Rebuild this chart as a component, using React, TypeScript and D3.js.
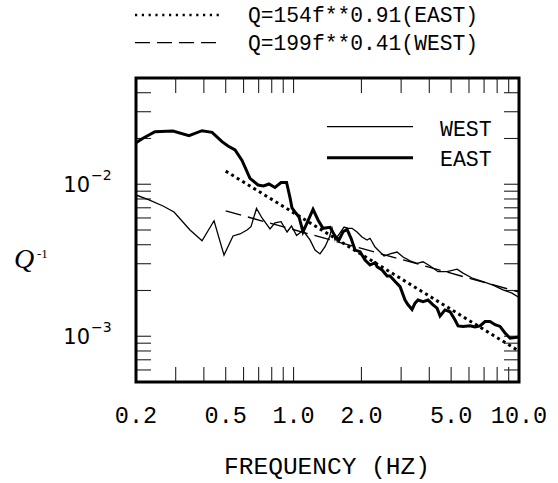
import React from 'react';
import * as d3 from 'd3';

// EAST spectral-ratio estimate of Q^-1 (thick line)
const eastFreq = [0.2, 0.2148, 0.2428, 0.2918, 0.3437, 0.3926, 0.4349, 0.4815, 0.5119, 0.55, 0.5906, 0.6408, 0.6954, 0.7357, 0.778, 0.827, 0.88, 0.931, 0.965, 0.984, 1.025, 1.057, 1.101, 1.136, 1.22, 1.284, 1.351, 1.451, 1.527, 1.591, 1.657, 1.727, 1.799, 1.874, 1.972, 2.075, 2.184, 2.298, 2.346, 2.469, 2.598, 2.68, 2.82, 2.968, 3.122, 3.22, 3.354, 3.458, 3.566, 3.752, 3.95, 4.156, 4.33, 4.466, 4.698, 4.946, 5.204, 5.366, 5.646, 6.064, 6.384, 6.718, 7.07, 7.44, 7.83, 8.24, 8.67, 9.13, 9.6, 10.0];
const eastQinv = [0.01876, 0.02006, 0.02216, 0.0224, 0.02087, 0.0225, 0.02196, 0.01905, 0.01784, 0.0168, 0.01433, 0.01094, 0.00989, 0.00974, 0.01004, 0.00952, 0.01027, 0.01027, 0.00812, 0.00698, 0.00644, 0.00609, 0.00487, 0.00539, 0.00684, 0.00582, 0.00513, 0.00521, 0.00457, 0.0043, 0.00487, 0.00505, 0.00441, 0.00369, 0.0036, 0.00317, 0.00294, 0.00305, 0.00287, 0.00273, 0.00249, 0.00249, 0.00229, 0.00212, 0.00173, 0.00161, 0.0015, 0.00165, 0.00173, 0.00169, 0.00173, 0.00161, 0.00153, 0.00136, 0.00149, 0.00145, 0.00128, 0.00117, 0.00116, 0.00117, 0.00115, 0.00117, 0.00125, 0.00125, 0.00119, 0.00116, 0.00105, 0.00097, 0.00098, 0.00099];

// WEST estimate (thin line)
const westFreq = [0.2, 0.2284, 0.2636, 0.2949, 0.3472, 0.3926, 0.4438, 0.4914, 0.5388, 0.5786, 0.6216, 0.6474, 0.6848, 0.7244, 0.7862, 0.827, 0.88, 0.9354, 0.9794, 1.031, 1.101, 1.183, 1.245, 1.31, 1.379, 1.444, 1.481, 1.527, 1.607, 1.675, 1.744, 1.817, 1.912, 2.012, 2.118, 2.184, 2.298, 2.394, 2.52, 2.68, 2.878, 3.06, 3.286, 3.53, 3.752, 4.032, 4.374, 4.796, 5.312, 5.646, 6.254, 6.926, 7.672, 8.496, 9.314, 10.0];
const westQinv = [0.0085, 0.00788, 0.00719, 0.00657, 0.005, 0.00425, 0.00575, 0.00342, 0.00457, 0.00471, 0.005, 0.00526, 0.00693, 0.006, 0.00508, 0.00558, 0.00567, 0.00485, 0.00531, 0.0046, 0.00496, 0.0043, 0.00369, 0.00348, 0.00388, 0.00452, 0.00515, 0.0043, 0.00478, 0.00523, 0.00513, 0.00513, 0.00485, 0.0045, 0.0043, 0.00441, 0.00386, 0.00364, 0.00337, 0.00348, 0.00358, 0.00332, 0.00313, 0.00302, 0.00309, 0.0029, 0.00266, 0.00266, 0.00276, 0.0026, 0.0024, 0.00229, 0.00217, 0.00202, 0.00192, 0.0018];

// Power-law fits Q = Q0 f^n
const eastFitQ0 = 154;
const eastFitN = 0.91;
const westFitQ0 = 199;
const westFitN = 0.41;
const fitRange = [0.5, 10];
const fitLabels = ['Q=154f**0.91(EAST)', 'Q=199f**0.41(WEST)'];

// Axes
const xDomain = [0.2, 10];
const yDomain = [5e-4, 5e-2];
const xLabelValues = [0.2, 0.5, 1, 2, 5, 10];
const xLabelTexts = ['0.2', '0.5', '1.0', '2.0', '5.0', '10.0'];
const xTickValues = [0.3, 0.4, 0.5, 0.6, 0.7, 0.8, 0.9, 1, 2, 3, 4, 5, 6, 7, 8, 9];
const yTickValues = [6e-4, 7e-4, 8e-4, 9e-4, 1e-3, 2e-3, 3e-3, 4e-3, 5e-3, 6e-3, 7e-3, 8e-3, 9e-3, 1e-2, 2e-2, 3e-2, 4e-2];
const yLabelValues = [1e-2, 1e-3];
const yLabelExps = ['\u22122', '\u22123'];

const W = 558;
const H = 483;
const L = 136, R = 519, T = 78, B = 382;
const MONO = "'Liberation Mono', 'Courier New', monospace";

export default function App() {
  const x = d3.scaleLog().domain(xDomain).range([L, R]);
  const y = d3.scaleLog().domain(yDomain).range([B, T]);
  const line = d3.line<[number, number]>().x(d => x(d[0])).y(d => y(d[1]));

  const east = eastFreq.map((f, i) => [f, eastQinv[i]] as [number, number]);
  const west = westFreq.map((f, i) => [f, westQinv[i]] as [number, number]);
  const fit = (q0: number, n: number) => fitRange.map(f => [f, 1 / (q0 * Math.pow(f, n))] as [number, number]);
  const TL = 15;

  return (
    <svg width={W} height={H} style={{ position: 'absolute', left: 0, top: 0, background: '#fff' }}>
      <rect x={0} y={0} width={W} height={H} fill="#fff" />
      {/* top legend */}
      <line x1={135} x2={220} y1={15} y2={15} stroke="#000" strokeWidth={2.4} strokeDasharray="2.2 4.6" />
      <text x={248} y={21.5} fontFamily={MONO} fontSize={21.3} fill="#000">{fitLabels[0]}</text>
      <line x1={135} x2={220} y1={42.7} y2={42.7} stroke="#000" strokeWidth={1.3} strokeDasharray="15 7" />
      <text x={248} y={49.5} fontFamily={MONO} fontSize={21.3} fill="#000">{fitLabels[1]}</text>

      <defs>
        <clipPath id="plotclip">
          <rect x={L} y={T} width={R - L} height={B - T} />
        </clipPath>
      </defs>

      {/* ticks */}
      {xTickValues.map(v => (
        <g key={'xt' + v}>
          <line x1={x(v)} x2={x(v)} y1={B} y2={B - TL} stroke="#222" strokeWidth={1.1} />
          <line x1={x(v)} x2={x(v)} y1={T} y2={T + TL} stroke="#222" strokeWidth={1.1} />
        </g>
      ))}
      {yTickValues.map(v => (
        <g key={'yt' + v}>
          <line x1={L} x2={L + TL} y1={y(v)} y2={y(v)} stroke="#222" strokeWidth={1.1} />
          <line x1={R} x2={R - TL} y1={y(v)} y2={y(v)} stroke="#222" strokeWidth={1.1} />
        </g>
      ))}

      <g clipPath="url(#plotclip)">
        <path d={line(west) || ''} fill="none" stroke="#000" strokeWidth={1.3} />
        <path d={line(east) || ''} fill="none" stroke="#000" strokeWidth={3} />
        <path d={line(fit(eastFitQ0, eastFitN)) || ''} fill="none" stroke="#000" strokeWidth={3} strokeDasharray="3 3.5" />
        <path d={line(fit(westFitQ0, westFitN)) || ''} fill="none" stroke="#000" strokeWidth={1.4} strokeDasharray="16 7" />
      </g>

      {/* inner legend */}
      <line x1={327} x2={413} y1={126.7} y2={126.7} stroke="#000" strokeWidth={1.3} />
      <text x={440} y={135.5} fontFamily={MONO} fontSize={21.5} fill="#000">WEST</text>
      <line x1={327} x2={413} y1={157.7} y2={157.7} stroke="#000" strokeWidth={3} />
      <text x={440} y={165.5} fontFamily={MONO} fontSize={21.5} fill="#000">EAST</text>

      {/* frame */}
      <rect x={L} y={T} width={R - L} height={B - T} fill="none" stroke="#000" strokeWidth={3} />

      {/* x labels */}
      {xLabelValues.map((v, i) => (
        <text key={'xl' + v} x={x(v)} y={423} textAnchor="middle" fontFamily={MONO} fontSize={23.5} fill="#000">{xLabelTexts[i]}</text>
      ))}
      <text x={327} y={474} textAnchor="middle" fontFamily={MONO} fontSize={24.5} fill="#000">FREQUENCY (HZ)</text>

      {/* y labels */}
      {yLabelValues.map((v, i) => (
        <g key={'yl' + v}>
          <text x={90} y={y(v) + 8} textAnchor="end" fontFamily="'DejaVu Sans', sans-serif" fontSize={21} fill="#000">10</text>
          <text x={91} y={y(v) - 4} fontFamily="'DejaVu Sans', sans-serif" fontSize={14} fill="#000">{yLabelExps[i]}</text>
        </g>
      ))}
      <text x={14} y={268} fontFamily="'Liberation Serif', 'Times New Roman', serif" fontStyle="italic" fontSize={28} fill="#000">Q</text>
      <text x={37} y={258} fontFamily="'Liberation Serif', 'Times New Roman', serif" fontSize={13} fill="#000">-1</text>
    </svg>
  );
}
